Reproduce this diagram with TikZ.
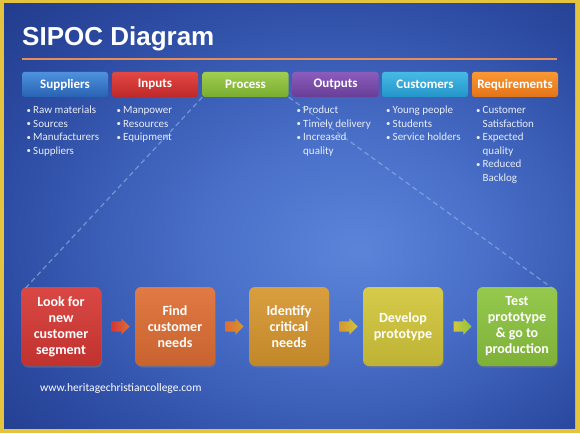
\documentclass[tikz,border=0pt]{standalone}
\usepackage{fontspec}
\setmainfont{Carlito}
\newfontfamily\titlefont{Liberation Sans}
\usetikzlibrary{shapes.arrows,shadows,calc}
\definecolor{frameY}{RGB}{228,196,62}
\definecolor{ruleO}{RGB}{232,140,90}
\definecolor{supT}{RGB}{78,146,222}\definecolor{supB}{RGB}{40,98,178}
\definecolor{inpT}{RGB}{226,72,68}\definecolor{inpB}{RGB}{190,40,40}
\definecolor{proT}{RGB}{160,206,80}\definecolor{proB}{RGB}{120,172,48}
\definecolor{outT}{RGB}{140,92,188}\definecolor{outB}{RGB}{104,62,150}
\definecolor{cusT}{RGB}{70,186,228}\definecolor{cusB}{RGB}{36,148,200}
\definecolor{reqT}{RGB}{250,152,52}\definecolor{reqB}{RGB}{226,116,24}
\definecolor{bxA}{RGB}{214,56,52}
\definecolor{bxB}{RGB}{222,110,52}
\definecolor{bxC}{RGB}{214,150,46}
\definecolor{bxD}{RGB}{210,198,58}
\definecolor{bxE}{RGB}{140,196,62}
\definecolor{dashC}{RGB}{150,180,230}
\definecolor{bulC}{RGB}{232,238,248}
\pgfdeclareradialshading{bgshade}{\pgfpoint{6bp}{-4bp}}{rgb(0bp)=(0.36,0.52,0.85); rgb(12bp)=(0.29,0.44,0.79); rgb(30bp)=(0.17,0.29,0.63); rgb(45bp)=(0.11,0.20,0.50); rgb(70bp)=(0.08,0.15,0.42)}
\begin{document}
\begin{tikzpicture}[x=1pt,y=-1pt,
  tab/.style={minimum width=86pt, minimum height=25pt, inner sep=0pt, rounded corners=2.5pt, text=white, font=\bfseries\fontsize{13}{15}\selectfont},
  bul/.style={anchor=base west, inner sep=0pt, text=bulC, font=\fontsize{11}{13}\selectfont},
  box/.style={minimum width=80pt, minimum height=79pt, inner sep=2pt, rounded corners=6pt, align=center, text=white, font=\bfseries\fontsize{14}{16}\selectfont, drop shadow={opacity=0.45, shadow xshift=1.2pt, shadow yshift=-1.5pt}},
  arr/.style={single arrow, minimum height=18pt, single arrow head extend=3pt, inner xsep=0pt, inner ysep=0pt, draw=none},
  dashline/.style={draw=dashC, line width=1.3pt, dash pattern=on 5pt off 3.5pt, opacity=0.6}
]
\useasboundingbox (0,0) rectangle (580,433);
\fill[frameY] (0,0) rectangle (580,433);
\shade[shading=bgshade] (4,4) rectangle (575,428);
% title and rule
\node[anchor=base west, inner sep=0pt, text=white, font=\titlefont\bfseries\fontsize{26}{30}\selectfont] (title) at (22,45.5) {SIPOC Diagram};
\draw[ruleO, line width=2pt] (22,59) -- (557,59);
% tabs
\node[tab, top color=supT, bottom color=supB] (sup) at (65,84.5) {Suppliers};
\node[tab, top color=inpT, bottom color=inpB] (inp) at (155,84.5) {Inputs};
\node[tab, top color=proT, bottom color=proB] (pro) at (245.5,84.5) {Process};
\node[tab, top color=outT, bottom color=outB] (out) at (335.5,84.5) {Outputs};
\node[tab, top color=cusT, bottom color=cusB] (cus) at (425,84.5) {Customers};
\node[tab, top color=reqT, bottom color=reqB] (req) at (515,84.5) {Requirements};
% boxes
\node[box, top color=bxA!92!white, bottom color=bxA!90!black] (b1) at (61,326.5) {Look for\\new\\customer\\segment};
\node[box, top color=bxB!92!white, bottom color=bxB!90!black] (b2) at (175,326.5) {Find\\customer\\needs};
\node[box, top color=bxC!92!white, bottom color=bxC!90!black] (b3) at (289,326.5) {Identify\\critical\\needs};
\node[box, top color=bxD!92!white, bottom color=bxD!90!black] (b4) at (403,326.5) {Develop\\prototype};
\node[box, top color=bxE!92!white, bottom color=bxE!90!black] (b5) at (517,326.5) {Test\\prototype\\\&{} go to\\production};
% dashed zoom lines
\draw[dashline] (pro.south west) -- ([xshift=4pt,yshift=-2pt]b1.north west);
\draw[dashline] (pro.south east) -- ([xshift=-4pt,yshift=-2pt]b5.north east);
% arrows
\node[arr, left color=bxA, right color=bxB] (a1) at ($(b1.east)!0.5!(b2.west)$) {\rule{0pt}{10pt}};
\node[arr, left color=bxB, right color=bxC] (a2) at ($(b2.east)!0.5!(b3.west)$) {\rule{0pt}{10pt}};
\node[arr, left color=bxC, right color=bxD] (a3) at ($(b3.east)!0.5!(b4.west)$) {\rule{0pt}{10pt}};
\node[arr, left color=bxD, right color=bxE] (a4) at ($(b4.east)!0.5!(b5.west)$) {\rule{0pt}{10pt}};
% bullets
\newcommand\bt{\makebox[6.5pt][l]{\raisebox{0.3pt}{\scalebox{0.8}{•}}}}
\node[bul] (s1) at (26.5,113.5) {\bt Raw materials};
\node[bul] (s2) at (26.5,127) {\bt Sources};
\node[bul] (s3) at (26.5,140.5) {\bt Manufacturers};
\node[bul] (s4) at (26.5,154) {\bt Suppliers};
\node[bul] (i1) at (116.5,113.5) {\bt Manpower};
\node[bul] (i2) at (116.5,127) {\bt Resources};
\node[bul] (i3) at (116.5,140.5) {\bt Equipment};
\node[bul] (o1) at (296.5,113.5) {\bt Product};
\node[bul] (o2) at (296.5,127) {\bt Timely delivery};
\node[bul] (o3) at (296.5,140.5) {\bt Increased};
\node[bul] (o4) at (303,154) {quality};
\node[bul] (c1) at (386,113.5) {\bt Young people};
\node[bul] (c2) at (386,127) {\bt Students};
\node[bul] (c3) at (386,140.5) {\bt Service holders};
\node[bul] (r1) at (476,113.5) {\bt Customer};
\node[bul] (r2) at (482.5,127) {Satisfaction};
\node[bul] (r3) at (476,140.5) {\bt Expected};
\node[bul] (r4) at (482.5,154) {quality};
\node[bul] (r5) at (476,167.5) {\bt Reduced};
\node[bul] (r6) at (482.5,181) {Backlog};
% url
\node[anchor=base west, inner sep=0pt, text=white, font=\fontsize{11.5}{13}\selectfont] (url) at (40,391.5) {www.heritagechristiancollege.com};
\end{tikzpicture}
\end{document}
